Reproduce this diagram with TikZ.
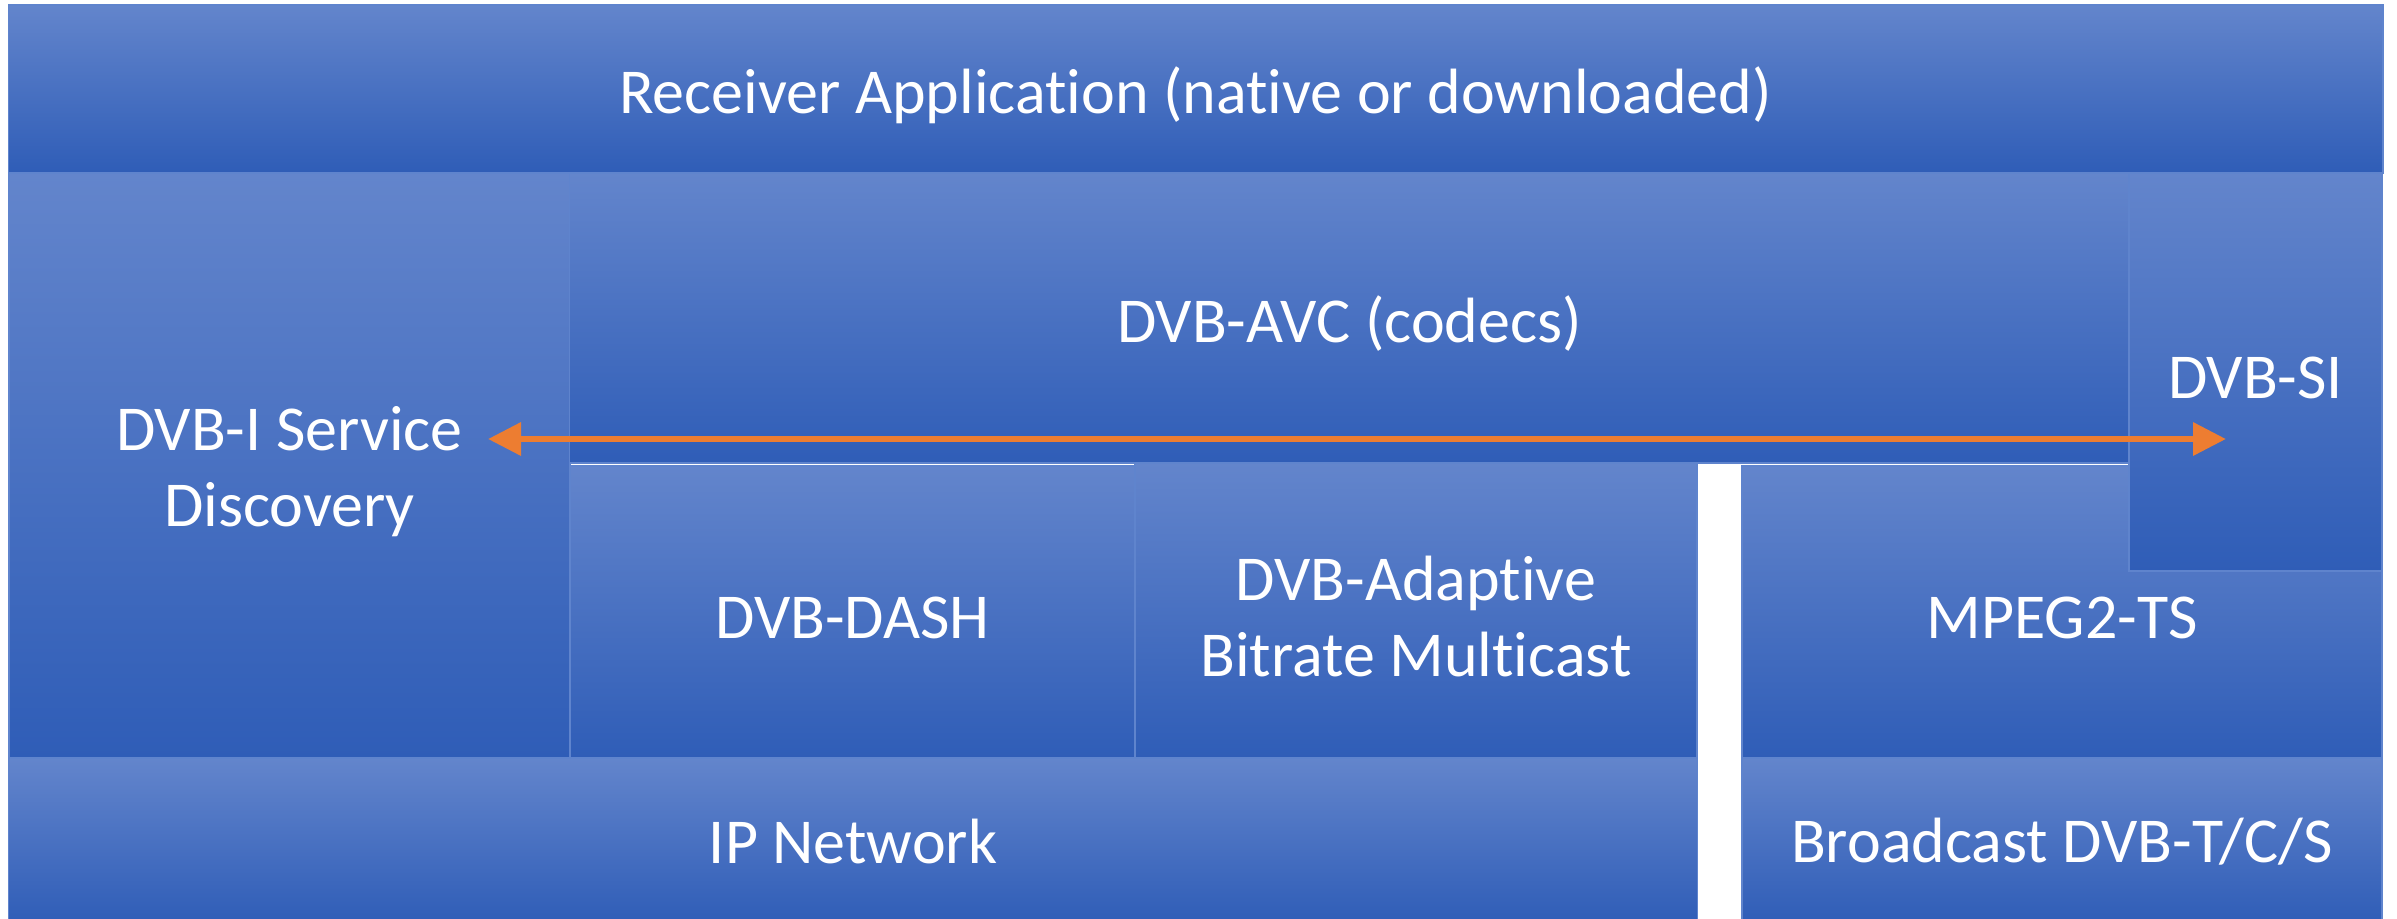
\documentclass[tikz,border=0pt]{standalone}
\usepackage{fontspec}
\setmainfont{Carlito}[Ligatures=NoCommon]
\usetikzlibrary{arrows.meta}

\definecolor{btop}{HTML}{6385CC}
\definecolor{bmid}{HTML}{4472C8}
\definecolor{bbot}{HTML}{2F5DB7}
\definecolor{bline}{HTML}{5F84CD}
\definecolor{aorange}{HTML}{ED7D31}

\tikzset{
  layer/.style={rectangle, inner sep=0pt, outer sep=0pt,
    draw=bline, line width=0.45pt,
    top color=btop, middle color=bmid, bottom color=bbot},
  caption/.style={text=white, align=center, inner sep=0pt,
    font=\fontsize{18.2}{21.8}\selectfont},
  flow/.style={draw=aorange, line width=1.85pt,
    {Triangle[length=0.33cm,width=0.32cm]}-{Triangle[length=0.33cm,width=0.32cm]}},
  dn/.style={yshift=-0.06cm}
}

\begin{document}
\begin{tikzpicture}[x=0.01cm, y=-0.01cm]
  \useasboundingbox (0,0) rectangle (2397,918);

  % top layer
  \node[layer, minimum width=23.73cm, minimum height=1.68cm] (recv) at (1195.5,89) {};

  % middle layers
  \node[layer, minimum width=5.61cm, minimum height=5.85cm] (disc) at (289.5,465.5) {};
  \node[layer, minimum width=15.59cm, minimum height=2.90cm] (avc) at (1349.5,318) {};
  \node[layer, minimum width=6.40cm, minimum height=2.92cm] (mpeg) at (2062,612) {};
  \node[layer, minimum width=2.53cm, minimum height=3.98cm] (si) at (2255.5,372) {};
  \node[layer, minimum width=5.65cm, minimum height=2.92cm] (dash) at (852.5,612) {};
  \node[layer, minimum width=5.62cm, minimum height=2.95cm] (abm) at (1416,610.5) {};

  % transport layers
  \node[layer, minimum width=16.88cm, minimum height=1.66cm] (ip) at (853,841) {};
  \node[layer, minimum width=6.40cm, minimum height=1.66cm] (bcast) at (2062,841) {};

  % layer captions
  \node[caption, dn] (recvtext) at (recv.center) {Receiver Application (native or downloaded)};
  \node[caption, dn] (disctext) at (disc.center) {DVB-I Service\\Discovery};
  \node[caption, dn] (avctext) at (avc.center) {DVB-AVC (codecs)};
  \node[caption, dn] (mpegtext) at (mpeg.center) {MPEG2-TS};
  \node[caption, dn] (sitext) at (si.center) {DVB-SI};
  \node[caption, dn] (dashtext) at (dash.center) {DVB-DASH};
  \node[caption, dn] (abmtext) at (abm.center) {DVB-Adaptive\\Bitrate Multicast};
  \node[caption] (iptext) at (853,842) {IP Network};
  \node[caption] (bctext) at (2062,842) {Broadcast DVB-T/C/S};

  % service discovery link
  \coordinate (aL) at (488,439);
  \coordinate (aR) at (2226,439);
  \draw[flow] (aL) -- (aR);
\end{tikzpicture}
\end{document}
